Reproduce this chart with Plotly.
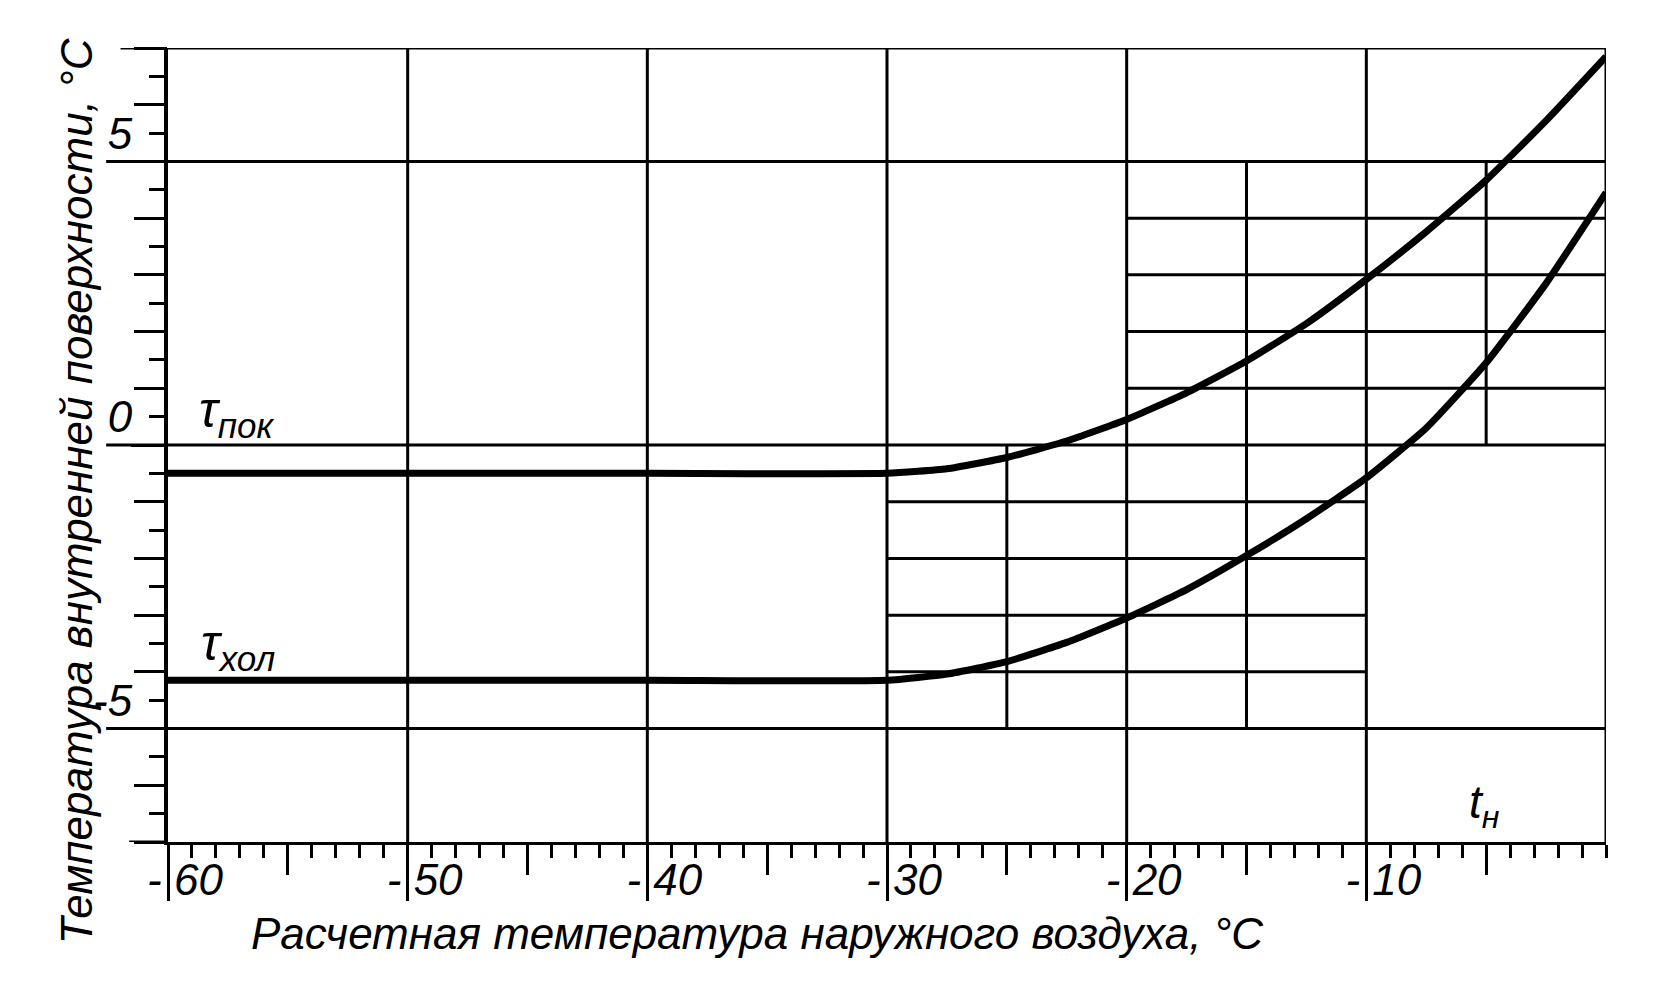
import plotly.graph_objects as go

# outside air temperature, deg C
t_out = [-60, -50, -40, -30, -27.5, -25, -22.5, -20, -17.5, -15, -12.5, -10, -7.5, -5, -2.5, 0]
# inner surface temperature
tau_pok = [-0.5, -0.5, -0.5, -0.5, -0.42, -0.22, 0.07, 0.45, 0.92, 1.48, 2.14, 2.92, 3.76, 4.67, 5.72, 6.85]
tau_hol = [-4.15, -4.15, -4.15, -4.15, -4.04, -3.82, -3.48, -3.05, -2.55, -1.95, -1.3, -0.58, 0.3, 1.45, 2.85, 4.45]

x_major = [-60, -50, -40, -30, -20, -10]
x_major_text = ['-\u00a060', '-\u00a050', '-\u00a040', '-\u00a030', '-\u00a020', '-\u00a010']
x_five = [-55, -45, -35, -25, -15, -5]
y_labeled = [-5, 0, 5]
y_labeled_text = ['-5', '0', '5']
y_whole = [-7, -6, -5, -4, -3, -2, -1, 0, 1, 2, 3, 4, 5, 6, 7]

# grid pieces
full_h = [5, 0, -5]
full_v = [-50, -40, -30, -20, -10, 0]
upper_h = [1, 2, 3, 4]          # from -20 to 0
lower_h = [-1, -2, -3, -4]      # from -30 to -10
v_pieces = [(-5, 0, 5), (-15, -5, 5), (-25, -5, 0)]  # x, y from, y to

FONT = 'Liberation Sans, Arial, sans-serif'
INK = 'black'

fig = go.Figure()
fig.add_trace(go.Scatter(x=t_out, y=tau_pok, mode='lines', line=dict(color=INK, width=7, shape='spline', smoothing=0.45),
                         hoverinfo='skip', showlegend=False))
fig.add_trace(go.Scatter(x=t_out, y=tau_hol, mode='lines', line=dict(color=INK, width=7, shape='spline', smoothing=0.45),
                         hoverinfo='skip', showlegend=False))
# dummy traces for the helper axes (5-degree x ticks, whole-degree y ticks)
fig.add_trace(go.Scatter(x=[-60, 0], y=[-7, -7], xaxis='x2', yaxis='y2', mode='lines', line=dict(width=0),
                         hoverinfo='skip', showlegend=False))

shapes = []
for y in full_h:
    shapes.append(dict(type='line', xref='paper', yref='y', x0=-0.043, x1=1, y0=y, y1=y, line=dict(color=INK, width=3)))
for x in full_v:
    shapes.append(dict(type='line', xref='x', yref='y', x0=x, x1=x, y0=-7, y1=7, line=dict(color=INK, width=3)))
for y in upper_h:
    shapes.append(dict(type='line', xref='x', yref='y', x0=-20, x1=0, y0=y, y1=y, line=dict(color=INK, width=3)))
for y in lower_h:
    shapes.append(dict(type='line', xref='x', yref='y', x0=-30, x1=-10, y0=y, y1=y, line=dict(color=INK, width=3)))
for x, ya, yb in v_pieces:
    shapes.append(dict(type='line', xref='x', yref='y', x0=x, x1=x, y0=ya, y1=yb, line=dict(color=INK, width=3)))
# top frame line and left stub of bottom axis
shapes.append(dict(type='line', xref='paper', yref='y', x0=-0.033, x1=1, y0=7, y1=7, line=dict(color=INK, width=3)))
shapes.append(dict(type='line', xref='paper', yref='y', x0=-0.027, x1=0, y0=-7, y1=-7, line=dict(color=INK, width=3)))

fig.update_layout(
    width=1654, height=990,
    # page body adds 8px on the left/top
    margin=dict(l=160, r=56, t=40, b=156),
    paper_bgcolor='white', plot_bgcolor='white',
    font=dict(family=FONT, color=INK, size=44, style='italic'),
    shapes=shapes,
    xaxis=dict(range=[-60, 0], showgrid=False, zeroline=False, showline=True, linecolor=INK, linewidth=3,
               automargin=False,
               ticks='outside', tickvals=x_major, ticktext=x_major_text, ticklen=56, tickwidth=3, tickcolor=INK,
               ticklabelshift=17, ticklabelstandoff=-59,
               minor=dict(dtick=1, ticks='outside', ticklen=13, tickwidth=2.5, tickcolor=INK)),
    xaxis2=dict(range=[-60, 0], overlaying='x', anchor='y', side='bottom', showgrid=False, zeroline=False,
                automargin=False, showline=False, ticks='outside', tickvals=x_five, ticklen=32, tickwidth=3,
                tickcolor=INK, showticklabels=False),
    yaxis=dict(range=[-7, 7], showgrid=False, zeroline=False, showline=True, linecolor=INK, linewidth=4,
               automargin=False,
               ticks='outside', tickvals=y_labeled, ticktext=y_labeled_text, ticklen=33, tickwidth=3, tickcolor=INK,
               ticklabelshift=-28, ticklabelstandoff=-10,
               minor=dict(dtick=0.5, ticks='outside', ticklen=15, tickwidth=2.5, tickcolor=INK)),
    yaxis2=dict(range=[-7, 7], overlaying='y', anchor='x', side='left', showgrid=False, zeroline=False,
                automargin=False, showline=False, ticks='outside', tickvals=y_whole, ticklen=33, tickwidth=3,
                tickcolor=INK, showticklabels=False),
)

fig.add_annotation(text='Температура внутренней поверхности, °С', xref='paper', yref='paper',
                   x=-0.064, y=0.443, xanchor='center', yanchor='middle', textangle=-90, showarrow=False,
                   font=dict(size=44))
fig.add_annotation(text='Расчетная температура наружного воздуха, °С', xref='paper', yref='paper',
                   x=0.41, y=-0.115, xanchor='center', yanchor='middle', showarrow=False, font=dict(size=44))
fig.add_annotation(text='τ<sub>пок</sub>', x=-58.8, y=0.55, xanchor='left', showarrow=False, font=dict(size=50))
fig.add_annotation(text='τ<sub>хол</sub>', x=-58.7, y=-3.55, xanchor='left', showarrow=False, font=dict(size=50))
fig.add_annotation(text='t<sub>н</sub>', x=-5.8, y=-6.35, xanchor='left', showarrow=False, font=dict(size=46))

fig.write_html('out.html')
